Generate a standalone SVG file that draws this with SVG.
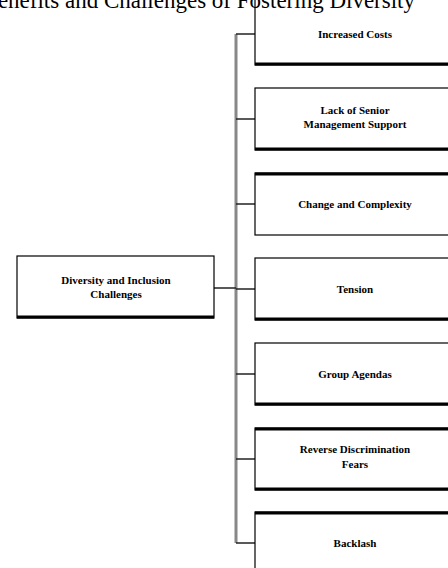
<svg xmlns="http://www.w3.org/2000/svg" width="448" height="568" viewBox="0 0 448 568">
<style>
.box{fill:#fff;stroke:#000;stroke-width:1.2}
.base{stroke:#000;stroke-width:3}
.lbl{font-family:"Liberation Serif",serif;font-size:11px;font-weight:bold;text-anchor:middle;fill:#000}
.ttl{font-family:"Liberation Serif",serif;font-size:23px;fill:#000}
.con{stroke:#222;stroke-width:1.5;fill:none}
.spine{stroke:#888;stroke-width:3;fill:none}
</style>
<rect width="448" height="568" fill="#fff"/>
<g id="connectors">
<line class="spine" x1="236" y1="34" x2="236" y2="543"/>
<line class="con" x1="214" y1="288" x2="236" y2="288"/>
<line class="con" x1="236" y1="34" x2="255" y2="34"/>
<line class="con" x1="236" y1="119" x2="255" y2="119"/>
<line class="con" x1="236" y1="204" x2="255" y2="204"/>
<line class="con" x1="236" y1="289" x2="255" y2="289"/>
<line class="con" x1="236" y1="374" x2="255" y2="374"/>
<line class="con" x1="236" y1="459" x2="255" y2="459"/>
<line class="con" x1="236" y1="543" x2="255" y2="543"/>
</g>
<g id="root">
<rect class="box" x="17" y="256" width="197" height="62"/>
<line class="base" x1="17" y1="317" x2="214" y2="317"/>
<text class="lbl" x="116" y="284">Diversity and Inclusion</text>
<text class="lbl" x="116" y="298">Challenges</text>
</g>
<g id="n1">
<rect class="box" x="255" y="-4" width="210" height="69"/>
<line class="base" x1="255" y1="64" x2="465" y2="64"/>
<text class="lbl" x="355" y="38">Increased Costs</text>
</g>
<g id="n2">
<rect class="box" x="255" y="88" width="210" height="62"/>
<line class="base" x1="255" y1="149" x2="465" y2="149"/>
<text class="lbl" x="355" y="114">Lack of Senior</text>
<text class="lbl" x="355" y="128">Management Support</text>
</g>
<g id="n3">
<rect class="box" x="255" y="173" width="210" height="62"/>
<line class="base" x1="255" y1="174" x2="465" y2="174"/>
<text class="lbl" x="355" y="208">Change and Complexity</text>
</g>
<g id="n4">
<rect class="box" x="255" y="258" width="210" height="62"/>
<line class="base" x1="255" y1="319" x2="465" y2="319"/>
<text class="lbl" x="355" y="293">Tension</text>
</g>
<g id="n5">
<rect class="box" x="255" y="343" width="210" height="62"/>
<line class="base" x1="255" y1="404" x2="465" y2="404"/>
<text class="lbl" x="355" y="378">Group Agendas</text>
</g>
<g id="n6">
<rect class="box" x="255" y="428" width="210" height="62"/>
<line class="base" x1="255" y1="429" x2="465" y2="429"/>
<line class="base" x1="255" y1="489" x2="465" y2="489"/>
<text class="lbl" x="355" y="453">Reverse Discrimination</text>
<text class="lbl" x="355" y="468">Fears</text>
</g>
<g id="n7">
<rect class="box" x="255" y="512" width="210" height="62"/>
<line class="base" x1="255" y1="513" x2="465" y2="513"/>
<text class="lbl" x="355" y="547">Backlash</text>
</g>
<text class="ttl" x="415" y="8" text-anchor="end">Benefits and Challenges of Fostering Diversity</text>
</svg>
